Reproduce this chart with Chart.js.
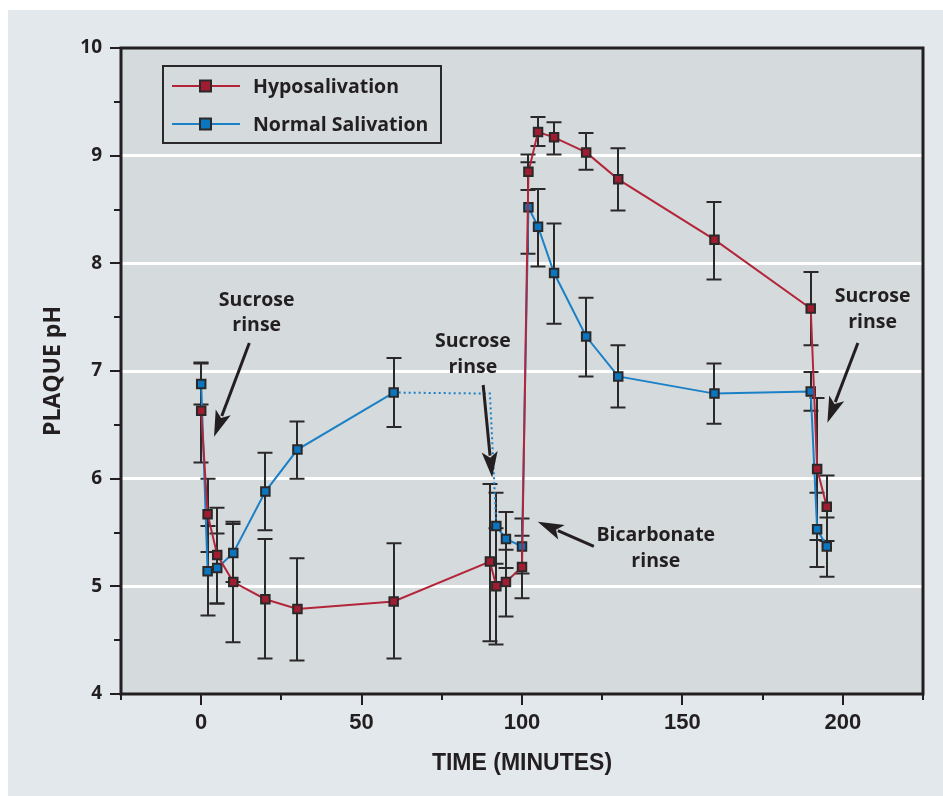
<!DOCTYPE html>
<html><head><meta charset="utf-8">
<script src="https://cdn.jsdelivr.net/npm/chart.js@4.4.1/dist/chart.umd.min.js"></script>
<style>html,body{margin:0;padding:0;background:#e3e8ec;overflow:hidden}</style>
</head><body>
<canvas id="c" width="943" height="796" style="display:block;width:943px;height:796px"></canvas>
<script>
// ---- data ----
const timeHypo = [0,2,5,10,20,30,60,90,92,95,100,102,105,110,120,130,160,190,192,195];
const phHypo   = [6.63,5.67,5.29,5.04,4.88,4.79,4.86,5.23,5.00,5.04,5.18,8.85,9.22,9.17,9.03,8.78,8.22,7.58,6.09,5.74];
const hiHypo   = [7.08,6.00,5.73,5.60,5.44,5.26,5.40,5.95,5.54,5.34,5.47,9.01,9.36,9.31,9.21,9.07,8.57,7.92,6.75,6.03];
const loHypo   = [6.15,5.32,4.84,4.48,4.33,4.31,4.33,4.49,4.46,4.72,4.89,8.68,9.09,9.01,8.87,8.49,7.85,7.24,5.43,5.42];

const timeNormal = [0,2,5,10,20,30,60,92,95,100,102,105,110,120,130,160,190,192,195];
const phNormal   = [6.88,5.14,5.17,5.31,5.88,6.27,6.80,5.56,5.44,5.37,8.52,8.34,7.91,7.32,6.95,6.79,6.81,5.53,5.37];
const hiNormal   = [7.07,5.56,5.49,5.58,6.24,6.53,7.12,5.87,5.69,5.63,8.94,8.69,8.37,7.68,7.24,7.07,6.99,5.87,5.64];
const loNormal   = [6.69,4.73,4.84,5.04,5.52,6.00,6.48,5.21,5.17,5.12,8.09,7.97,7.44,6.95,6.66,6.51,6.63,5.18,5.09];

// dotted bridge of the normal-salivation curve (60 -> 92 min)
const timeBridge = [60,90,92];
const phBridge   = [6.80,6.79,5.56];
const gapFrom = 60, gapTo = 92;

const seriesNames = ['Hyposalivation','Normal Salivation'];
const xTickLabels = [0,50,100,150,200];
const yTickLabels = [4,5,6,7,8,9,10];

// annotations (data units): text centre x, y of the two lines, arrow tail and tip
const notes = [
  {lines:['Sucrose','rinse'], x:17.3, y:7.66, y2:7.42, tail:[15.0,7.26], tip:[4.0,6.39]},
  {lines:['Sucrose','rinse'], x:84.7, y:7.27, y2:7.03, tail:[87.9,6.87], tip:[90.7,6.01]},
  {lines:['Bicarbonate','rinse'], x:141.7, y:5.47, y2:5.23, tail:[122.4,5.37], tip:[104.9,5.60]},
  {lines:['Sucrose','rinse'], x:209.3, y:7.69, y2:7.45, tail:[204.7,7.26], tip:[195.2,6.52]}
];

// ---- styles ----
const INK = '#231f20';
const RED_LINE = '#b3263a', RED_FILL = '#a01c30';
const BLUE_LINE = '#1b80c6', BLUE_FILL = '#0a76c0';
const toPts = (xs, ys) => xs.map((v,i)=>({x:v, y:ys[i]}));
const BOLD_FONT = '"Open Sans", "Noto Sans", sans-serif';

const bgPlugin = {
  id:'bg',
  beforeDraw(chart){
    const {ctx, chartArea:a} = chart;
    ctx.save();
    ctx.fillStyle='#ffffff'; ctx.fillRect(0,0,chart.width,chart.height);
    ctx.fillStyle='#e3e8ec'; ctx.fillRect(8,10,chart.width-8,chart.height-10);
    ctx.fillStyle='#d5dadd'; ctx.fillRect(a.left,a.top,a.right-a.left,a.bottom-a.top);
    ctx.restore();
  }
};

const errSets = [
  {t:timeHypo, hi:hiHypo, lo:loHypo},
  {t:timeNormal, hi:hiNormal, lo:loNormal}
];
const errPlugin = {
  id:'err',
  beforeDatasetsDraw(chart){
    const {ctx, scales:{x,y}} = chart;
    ctx.save(); ctx.strokeStyle='#2a2829'; ctx.lineWidth=2; ctx.lineCap='butt';
    errSets.forEach(s=>{
      s.t.forEach((t,i)=>{
        const px = Math.round(x.getPixelForValue(t));
        const yh = y.getPixelForValue(s.hi[i]), yl = y.getPixelForValue(s.lo[i]);
        ctx.beginPath();
        ctx.moveTo(px,yh); ctx.lineTo(px,yl);
        ctx.moveTo(px-7.5,yh); ctx.lineTo(px+7.5,yh);
        ctx.moveTo(px-7.5,yl); ctx.lineTo(px+7.5,yl);
        ctx.stroke();
      });
    });
    ctx.restore();
  }
};

function arrow(ctx, x0,y0,x1,y1){
  const ang = Math.atan2(y1-y0, x1-x0);
  const hl = 26, hw = 8;
  const bx = x1 - hl*Math.cos(ang), by = y1 - hl*Math.sin(ang);
  ctx.beginPath(); ctx.moveTo(x0,y0); ctx.lineTo(bx+4*Math.cos(ang), by+4*Math.sin(ang)); ctx.stroke();
  ctx.beginPath();
  ctx.moveTo(x1,y1);
  ctx.lineTo(bx + hw*Math.sin(ang), by - hw*Math.cos(ang));
  ctx.lineTo(bx + 6*Math.cos(ang), by + 6*Math.sin(ang));
  ctx.lineTo(bx - hw*Math.sin(ang), by + hw*Math.cos(ang));
  ctx.closePath(); ctx.fill();
}

const decoPlugin = {
  id:'deco',
  afterDraw(chart){
    const {ctx, chartArea:a, scales:{x,y}} = chart;
    ctx.save();
    // tick marks
    ctx.strokeStyle=INK; ctx.lineWidth=2;
    for(let v=y.min; v<=y.max+1e-9; v+=0.5){
      const py = Math.round(y.getPixelForValue(v));
      const len = (Math.abs(v-Math.round(v))<1e-9) ? 11 : 7;
      ctx.beginPath(); ctx.moveTo(a.left-len,py); ctx.lineTo(a.left,py); ctx.stroke();
    }
    for(let v=x.min; v<=x.max+1e-9; v+=25){
      const px = Math.round(x.getPixelForValue(v));
      const len = (v%50===0) ? 11 : 6;
      ctx.beginPath(); ctx.moveTo(px,a.bottom); ctx.lineTo(px,a.bottom+len); ctx.stroke();
    }
    // frame
    ctx.lineWidth=3; ctx.strokeStyle=INK;
    ctx.strokeRect(a.left, a.top, a.right-a.left, a.bottom-a.top);

    // annotations
    ctx.fillStyle=INK; ctx.strokeStyle=INK;
    ctx.font='bold 19.5px ' + BOLD_FONT;
    ctx.textAlign='center'; ctx.textBaseline='middle';
    notes.forEach(n=>{
      const tx = x.getPixelForValue(n.x);
      ctx.fillText(n.lines[0], tx, y.getPixelForValue(n.y));
      ctx.fillText(n.lines[1], tx, y.getPixelForValue(n.y2));
      ctx.lineWidth=3;
      arrow(ctx, x.getPixelForValue(n.tail[0]), y.getPixelForValue(n.tail[1]),
                 x.getPixelForValue(n.tip[0]), y.getPixelForValue(n.tip[1]));
    });

    // legend box
    const L = a.left+42, T = a.top+18, W = 278, H = 77;
    ctx.lineWidth=2; ctx.strokeStyle='#2a2829';
    ctx.strokeRect(L, T, W, H);
    const rows = [
      {name:seriesNames[0], line:RED_LINE, fill:RED_FILL, yy:T+20},
      {name:seriesNames[1], line:BLUE_LINE, fill:BLUE_FILL, yy:T+58}
    ];
    rows.forEach(r=>{
      ctx.strokeStyle=r.line; ctx.lineWidth=2;
      ctx.beginPath(); ctx.moveTo(L+9, r.yy); ctx.lineTo(L+77, r.yy); ctx.stroke();
      ctx.fillStyle=r.fill; ctx.strokeStyle='#2a2829'; ctx.lineWidth=2;
      ctx.fillRect(L+37, r.yy-5.5, 11, 11); ctx.strokeRect(L+37, r.yy-5.5, 11, 11);
      ctx.fillStyle=INK; ctx.textAlign='left'; ctx.textBaseline='middle';
      ctx.font='bold 19.5px ' + BOLD_FONT;
      ctx.fillText(r.name, L+90, r.yy+1);
    });
    ctx.restore();
  }
};

new Chart(document.getElementById('c'), {
  type:'line',
  data:{
    datasets:[
      {
        label:seriesNames[0], data:toPts(timeHypo, phHypo),
        borderColor:RED_LINE, borderWidth:2, backgroundColor:RED_FILL,
        pointStyle:'rect', pointRadius:6, pointBorderColor:'#2a2829', pointBorderWidth:2,
        pointBackgroundColor:RED_FILL, tension:0, order:1
      },
      {
        label:seriesNames[1], data:toPts(timeNormal, phNormal),
        borderColor:BLUE_LINE, borderWidth:2, backgroundColor:BLUE_FILL,
        pointStyle:'rect', pointRadius:6, pointBorderColor:'#2a2829', pointBorderWidth:2,
        pointBackgroundColor:BLUE_FILL, tension:0, order:2,
        segment:{ borderColor: c => (c.p0.parsed.x===gapFrom && c.p1.parsed.x===gapTo) ? 'rgba(0,0,0,0)' : undefined }
      },
      {
        label:'bridge', data:toPts(timeBridge, phBridge),
        borderColor:BLUE_LINE, borderWidth:2, borderDash:[2,3], pointRadius:0, tension:0, order:3
      }
    ]
  },
  options:{
    responsive:false, animation:false, devicePixelRatio:1,
    layout:{padding:{top:48, right:20, left:0, bottom:0}},
    plugins:{legend:{display:false}, tooltip:{enabled:false}},
    scales:{
      x:{
        type:'linear', min:-25, max:225,
        afterFit(s){ s.height = 102; },
        grid:{display:false, drawTicks:false},
        border:{display:false},
        ticks:{stepSize:25, padding:16, color:INK, maxRotation:0, autoSkip:false,
          font:{family:'"Liberation Sans Narrow", "Liberation Sans", sans-serif', weight:'bold', size:22},
          callback:v => xTickLabels.includes(v) ? String(v) : null},
        title:{display:true, text:'TIME (MINUTES)', color:INK, padding:{top:19,bottom:19},
          font:{family:'"Liberation Sans Narrow", "Liberation Sans", sans-serif', weight:'bold', size:23}}
      },
      y:{
        type:'linear', min:4, max:10,
        afterFit(s){ s.width = 121; },
        grid:{drawTicks:false, lineWidth:3,
          color:c => (Number.isInteger(c.tick.value) && c.tick.value>4 && c.tick.value<10) ? '#ffffff' : 'rgba(0,0,0,0)'},
        border:{display:false},
        ticks:{stepSize:0.5, padding:19, color:INK, autoSkip:false,
          font:{family:BOLD_FONT, weight:'bold', size:19},
          callback:v => yTickLabels.includes(v) ? String(v) : null},
        title:{display:true, text:'PLAQUE pH', color:INK, padding:{top:40,bottom:40},
          font:{family:BOLD_FONT, weight:'bold', size:23}}
      }
    }
  },
  plugins:[bgPlugin, errPlugin, decoPlugin]
});
</script>
</body></html>
